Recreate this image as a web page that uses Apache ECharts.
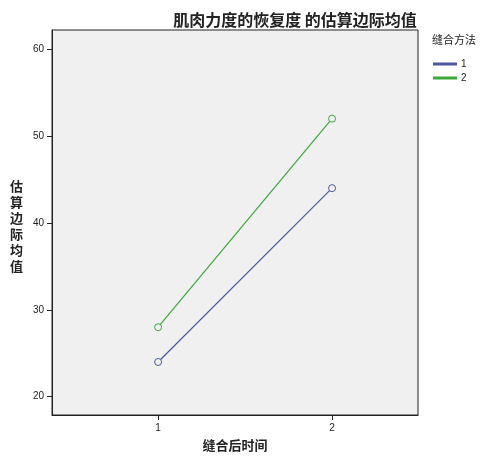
<!DOCTYPE html>
<html><head><meta charset="utf-8">
<script src="https://cdn.jsdelivr.net/npm/echarts@6/dist/echarts.min.js"></script>
<style>html,body{margin:0;padding:0;background:#fff}#c{width:500px;height:460px}</style>
</head><body><div id="c"></div>
<script>
var categories = [1, 2];
var method1 = [24, 44];
var method2 = [28, 52];
var yTicks = [20, 30, 40, 50, 60];
var chart = echarts.init(document.getElementById('c'));
var font = '"Noto Sans CJK SC", sans-serif';
function pts(v){ return categories.map(function(c,i){return [c, v[i]];}); }
chart.setOption({
  backgroundColor: '#fff',
  animation: false,
  title: { text: '肌肉力度的恢复度 的估算边际均值', left: 290, top: 7, textAlign: 'center',
    textStyle: { fontFamily: font, fontSize: 16, fontWeight: 'bold', color: '#222' } },
  graphic: [
    { type: 'text', left: 432, top: 34, style: { text: '缝合方法', font: '11px "Noto Sans CJK SC"', fill: '#222' } },
    { type: 'text', left: 10, top: 178, style: { text: '估\n算\n边\n际\n均\n值', font: 'bold 13px "Noto Sans CJK SC"', fill: '#222', lineHeight: 16 } }
  ],
  legend: { orient: 'vertical', left: 428, top: 54, itemWidth: 22, itemHeight: 1, itemGap: 4,
    icon: 'rect', textStyle: { fontSize: 10, color: '#222' },
    data: ['1', '2'] },
  grid: { left: 52, right: 82, top: 30, bottom: 45, show: true, backgroundColor: '#f0f0f0', borderColor: '#222', borderWidth: 1 },
  xAxis: { type: 'value', min: 0.39, max: 2.494, name: '缝合后时间', nameLocation: 'middle', nameGap: 24,
    nameTextStyle: { fontFamily: font, fontSize: 13, fontWeight: 'bold', color: '#222' },
    splitLine: { show: false },
    axisLine: { lineStyle: { color: '#222' } },
    axisTick: { show: true, customValues: categories, length: 5, lineStyle: { color: '#222' } },
    axisLabel: { customValues: categories, color: '#222', fontSize: 10 } },
  yAxis: { type: 'value', min: 17.9, max: 62.2,
    splitLine: { show: false },
    axisLine: { show: true, lineStyle: { color: '#222' } },
    axisTick: { show: true, customValues: yTicks, length: 5, lineStyle: { color: '#222' } },
    axisLabel: { customValues: yTicks, color: '#222', fontSize: 10 } },
  series: [
    { name: '1', type: 'line', data: pts(method1), symbol: 'circle', symbolSize: 7,
      itemStyle: { color: '#f0f0f0', borderColor: '#4a5a9e', borderWidth: 1 },
      lineStyle: { color: '#4a5a9e', width: 1.2 }, color: '#4a5a9e' },
    { name: '2', type: 'line', data: pts(method2), symbol: 'circle', symbolSize: 7,
      itemStyle: { color: '#f0f0f0', borderColor: '#3aa83a', borderWidth: 1 },
      lineStyle: { color: '#3aa83a', width: 1.2 }, color: '#3aa83a' }
  ]
});
</script></body></html>
